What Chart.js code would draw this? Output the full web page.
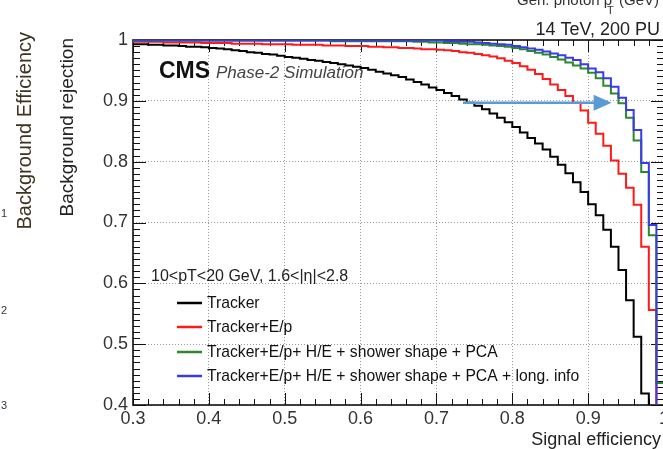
<!DOCTYPE html>
<html lang="en">
<head>
<meta charset="UTF-8">
<title>Background rejection vs signal efficiency</title>
<script src="https://cdn.jsdelivr.net/npm/chart.js"></script>
<style>
  html, body { margin: 0; padding: 0; background: #fff; overflow: hidden; }
  #wrap { width: 663px; height: 449px; overflow: hidden; }
</style>
</head>
<body>
<div id="wrap"><canvas id="roc" width="672" height="449"></canvas></div>
<script>
// signal efficiency bin edges
const signalEff = [
  0.30, 0.31, 0.32, 0.33, 0.34, 0.35, 0.36, 0.37, 0.38, 0.39,
  0.40, 0.41, 0.42, 0.43, 0.44, 0.45, 0.46, 0.47, 0.48, 0.49,
  0.50, 0.51, 0.52, 0.53, 0.54, 0.55, 0.56, 0.57, 0.58, 0.59,
  0.60, 0.61, 0.62, 0.63, 0.64, 0.65, 0.66, 0.67, 0.68, 0.69,
  0.70, 0.71, 0.72, 0.73, 0.74, 0.75, 0.76, 0.77, 0.78, 0.79,
  0.80, 0.81, 0.82, 0.83, 0.84, 0.85, 0.86, 0.87, 0.88, 0.89,
  0.90, 0.91, 0.92, 0.93, 0.94, 0.95, 0.96, 0.97, 0.98, 0.99, 1.00
];

// background rejection
const tracker = [
  0.993, 0.993, 0.992, 0.992, 0.991, 0.991, 0.990, 0.989, 0.989, 0.988,
  0.987, 0.986, 0.985, 0.983, 0.982, 0.980, 0.979, 0.977, 0.976, 0.974,
  0.972, 0.971, 0.969, 0.967, 0.966, 0.964, 0.962, 0.960, 0.958, 0.956,
  0.954, 0.951, 0.948, 0.945, 0.942, 0.939, 0.935, 0.931, 0.927, 0.922,
  0.918, 0.913, 0.908, 0.902, 0.897, 0.892, 0.886, 0.879, 0.872, 0.865,
  0.857, 0.848, 0.839, 0.830, 0.820, 0.808, 0.795, 0.781, 0.766, 0.750,
  0.730, 0.712, 0.688, 0.660, 0.622, 0.572, 0.512, 0.419, 0.300, 0.300, 0.300
];
const trackerEp = [
  0.997, 0.997, 0.997, 0.997, 0.996, 0.996, 0.996, 0.996, 0.996, 0.995,
  0.995, 0.995, 0.995, 0.994, 0.994, 0.994, 0.994, 0.993, 0.993, 0.993,
  0.993, 0.992, 0.992, 0.992, 0.992, 0.991, 0.991, 0.991, 0.990, 0.990,
  0.990, 0.989, 0.989, 0.988, 0.988, 0.987, 0.987, 0.986, 0.985, 0.985,
  0.984, 0.983, 0.982, 0.980, 0.979, 0.977, 0.975, 0.973, 0.970, 0.966,
  0.962, 0.957, 0.951, 0.944, 0.936, 0.927, 0.918, 0.908, 0.897, 0.884,
  0.864, 0.846, 0.826, 0.802, 0.780, 0.757, 0.729, 0.660, 0.556, 0.300, 0.300
];
const trackerEpShape = [
  0.999, 0.999, 0.999, 0.999, 0.999, 0.999, 0.999, 0.999, 0.999, 0.999,
  0.999, 0.999, 0.999, 0.999, 0.999, 0.999, 0.999, 0.999, 0.999, 0.999,
  0.999, 0.999, 0.999, 0.999, 0.999, 0.999, 0.998, 0.998, 0.998, 0.998,
  0.998, 0.998, 0.998, 0.998, 0.998, 0.998, 0.998, 0.997, 0.997, 0.996,
  0.996, 0.995, 0.995, 0.994, 0.993, 0.993, 0.992, 0.991, 0.990, 0.989,
  0.987, 0.985, 0.982, 0.979, 0.976, 0.972, 0.968, 0.963, 0.958, 0.953,
  0.946, 0.937, 0.925, 0.912, 0.896, 0.872, 0.835, 0.783, 0.679, 0.436, 0.436
];
const trackerEpShapeLong = [
  0.999, 0.999, 0.999, 0.999, 0.999, 0.999, 0.999, 0.999, 0.999, 0.999,
  0.999, 0.999, 0.999, 0.999, 0.999, 0.999, 0.999, 0.999, 0.999, 0.999,
  0.999, 0.999, 0.999, 0.999, 0.999, 0.999, 0.999, 0.999, 0.999, 0.999,
  0.999, 0.999, 0.999, 0.999, 0.999, 0.999, 0.999, 0.999, 0.999, 0.999,
  0.999, 0.998, 0.998, 0.997, 0.997, 0.996, 0.995, 0.994, 0.993, 0.992,
  0.990, 0.988, 0.986, 0.984, 0.981, 0.978, 0.975, 0.971, 0.967, 0.960,
  0.953, 0.947, 0.937, 0.923, 0.905, 0.885, 0.852, 0.798, 0.696, 0.300, 0.300
];

const seriesLabels = [
  'Tracker',
  'Tracker+E/p',
  'Tracker+E/p+ H/E + shower shape + PCA',
  'Tracker+E/p+ H/E + shower shape + PCA + long. info'
];
const seriesColors = ['#000000', '#ff1a1a', '#2a8a2a', '#3a3ae6'];
const seriesValues = [tracker, trackerEp, trackerEpShape, trackerEpShapeLong];

const FONT = "'Liberation Sans', Arial, sans-serif";

function fmt(v) {
  return String(Math.round(v * 10) / 10);
}

// ROOT style frame with inward ticks on all four sides
const rootFrame = {
  id: 'rootFrame',
  beforeDatasetsDraw(chart) {
    const { ctx, chartArea: a, scales: { x, y } } = chart;
    ctx.save();
    ctx.strokeStyle = '#111';
    ctx.lineWidth = 1;
    ctx.beginPath();
    for (let i = 0; i <= 35; i++) {
      const px = Math.round(x.getPixelForValue(0.3 + i * 0.02)) + 0.5;
      const len = i % 5 === 0 ? 12 : 6;
      ctx.moveTo(px, a.bottom); ctx.lineTo(px, a.bottom - len);
      ctx.moveTo(px, a.top); ctx.lineTo(px, a.top + len);
    }
    for (let i = 0; i <= 60; i++) {
      const py = Math.round(y.getPixelForValue(0.4 + i * 0.01)) + 0.5;
      const len = i % 10 === 0 ? 13 : 7;
      ctx.moveTo(a.left, py); ctx.lineTo(a.left + len, py);
      ctx.moveTo(a.right, py); ctx.lineTo(a.right - len, py);
    }
    ctx.stroke();
    ctx.lineWidth = 1.6;
    ctx.strokeRect(a.left, a.top, a.right - a.left, a.bottom - a.top);
    ctx.restore();
  }
};

// arrow in data units
const arrowY = 0.897;
const arrowX0 = 0.735;
const arrowX1 = 0.931;

const labelsPlugin = {
  id: 'labels',
  afterDatasetsDraw(chart) {
    const { ctx, scales: { x, y } } = chart;
    ctx.save();
    // arrow
    const ay = y.getPixelForValue(arrowY);
    const ax0 = x.getPixelForValue(arrowX0);
    const ax1 = x.getPixelForValue(arrowX1);
    ctx.strokeStyle = '#5b9bd5';
    ctx.fillStyle = '#5b9bd5';
    ctx.lineWidth = 2.5;
    ctx.beginPath();
    ctx.moveTo(ax0, ay);
    ctx.lineTo(ax1 - 14, ay);
    ctx.stroke();
    ctx.beginPath();
    ctx.moveTo(ax1, ay);
    ctx.lineTo(ax1 - 18, ay - 8);
    ctx.lineTo(ax1 - 18, ay + 8);
    ctx.closePath();
    ctx.fill();

    // CMS label
    ctx.fillStyle = '#111';
    ctx.textBaseline = 'alphabetic';
    ctx.font = 'bold 23px ' + FONT;
    ctx.fillText('CMS', 159, 78);
    ctx.fillStyle = '#444';
    ctx.font = 'italic 17px ' + FONT;
    ctx.fillText('Phase-2 Simulation', 216, 78);

    // selection text
    ctx.fillStyle = '#222';
    ctx.font = '16px ' + FONT;
    ctx.fillText('10<pT<20 GeV, 1.6<|\u03b7|<2.8', 151, 281);

    // legend
    const rows = [303, 327, 352, 376];
    ctx.font = '15.7px ' + FONT;
    chart.data.datasets.forEach((ds, i) => {
      ctx.strokeStyle = ds.borderColor;
      ctx.lineWidth = 2.5;
      ctx.beginPath();
      ctx.moveTo(177, rows[i]);
      ctx.lineTo(202, rows[i]);
      ctx.stroke();
      ctx.fillStyle = '#111';
      ctx.textBaseline = 'middle';
      ctx.fillText(ds.label, 207, rows[i] + 1);
    });
    ctx.restore();
  },
  afterDraw(chart) {
    const { ctx } = chart;
    ctx.save();
    ctx.fillStyle = '#222';
    ctx.textBaseline = 'alphabetic';
    // top right texts
    ctx.textAlign = 'right';
    ctx.font = '18px ' + FONT;
    ctx.fillText('14 TeV, 200 PU', 660, 35);
    ctx.fillText('Signal efficiency', 661, 445);
    // cut-off title of the plot above
    ctx.fillStyle = '#333';
    ctx.font = '15px ' + FONT;
    ctx.textAlign = 'left';
    ctx.fillText('Gen. photon p', 517, 5);
    ctx.font = '11px ' + FONT;
    ctx.fillText('T', 607, 14);
    ctx.font = '15px ' + FONT;
    ctx.fillText('(GeV)', 619, 5);

    // rotated axis titles
    ctx.fillStyle = '#222';
    ctx.textAlign = 'right';
    ctx.save();
    ctx.translate(73, 38);
    ctx.rotate(-Math.PI / 2);
    ctx.font = '19px ' + FONT;
    ctx.fillText('Background rejection', 0, 0);
    ctx.restore();
    ctx.save();
    ctx.translate(31, 32);
    ctx.rotate(-Math.PI / 2);
    ctx.fillStyle = '#3d3322';
    ctx.font = '20px ' + FONT;
    ctx.fillText('Background Efficiency', 0, 0);
    ctx.restore();

    // stray digits at the far left
    ctx.fillStyle = '#334';
    ctx.textAlign = 'left';
    ctx.font = '11px ' + FONT;
    ctx.fillText('1', 1, 217);
    ctx.fillText('2', 1, 314);
    ctx.fillText('3', 1, 409);
    ctx.restore();
  }
};

const datasets = seriesValues.map((vals, i) => ({
  label: seriesLabels[i],
  data: signalEff.map((e, j) => ({ x: e, y: vals[j] })),
  borderColor: seriesColors[i],
  borderWidth: 2,
  stepped: true,
  pointRadius: 0,
  fill: false,
  order: 3 - i
}));

new Chart(document.getElementById('roc'), {
  type: 'line',
  data: { datasets },
  plugins: [rootFrame, labelsPlugin],
  options: {
    responsive: false,
    animation: false,
    layout: { padding: { left: 0, top: 40, right: 7, bottom: 0 } },
    plugins: { legend: { display: false }, tooltip: { enabled: false } },
    scales: {
      x: {
        type: 'linear',
        min: 0.3,
        max: 1.0,
        afterFit: s => { s.height = 44; },
        ticks: {
          stepSize: 0.1,
          padding: 3,
          maxRotation: 0,
          autoSkip: false,
          color: '#333',
          font: { family: FONT, size: 18 },
          callback: v => fmt(v)
        },
        grid: { color: '#9a9a9a', lineWidth: 1, drawTicks: false },
        border: { display: false, dash: [1, 2] }
      },
      y: {
        min: 0.4,
        max: 1.0,
        afterFit: s => { s.width = 133; },
        ticks: {
          stepSize: 0.1,
          padding: 5,
          color: '#333',
          font: { family: FONT, size: 18 },
          callback: v => fmt(v)
        },
        grid: { color: '#9a9a9a', lineWidth: 1, drawTicks: false },
        border: { display: false, dash: [1, 2] }
      }
    }
  }
});
</script>
</body>
</html>
